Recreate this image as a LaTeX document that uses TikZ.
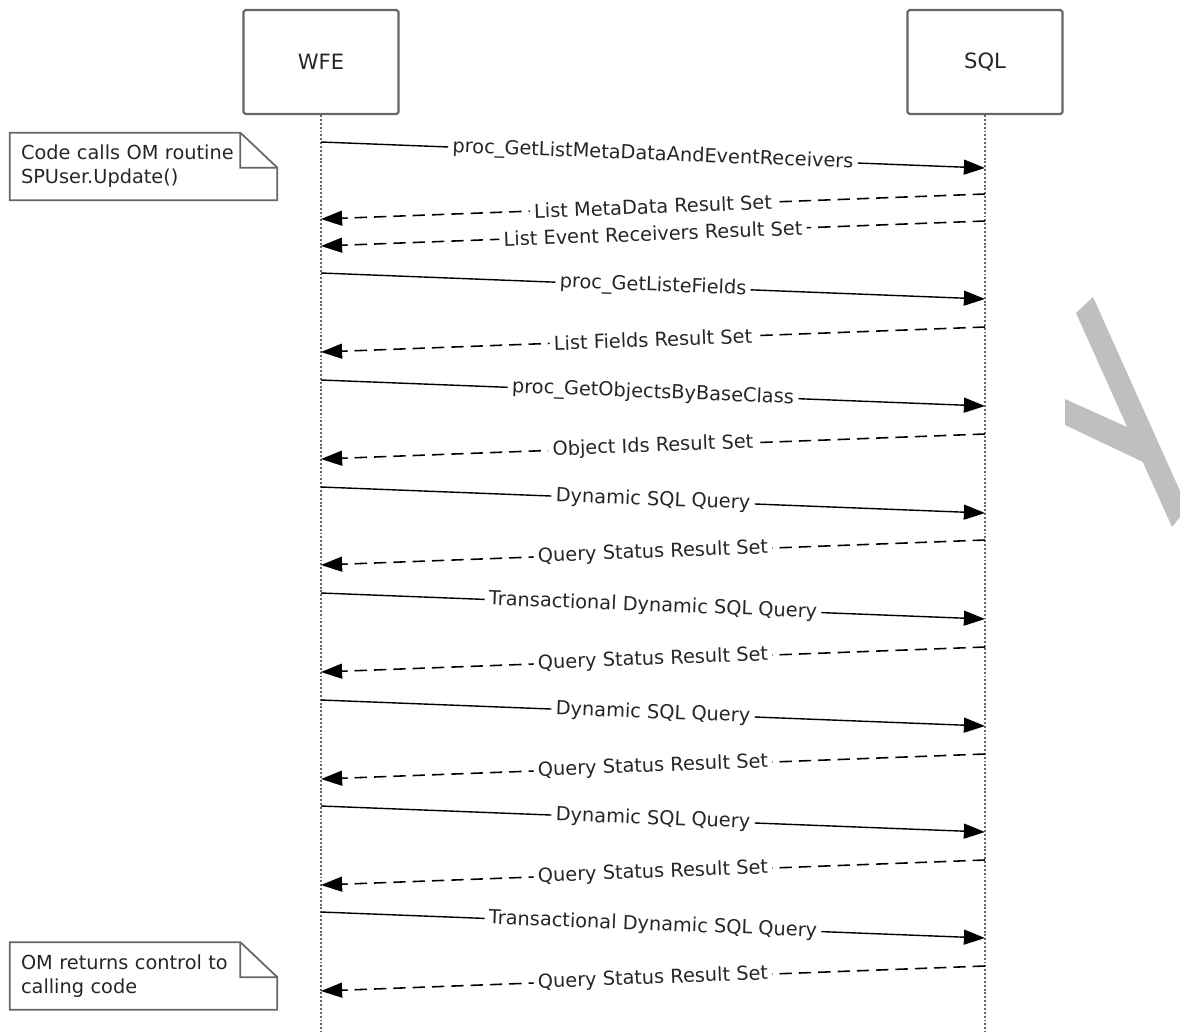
\documentclass[tikz,border=0pt]{standalone}
\usepackage{fontspec}
\setmainfont{DejaVu Sans}
\usetikzlibrary{arrows.meta,positioning}

\begin{document}
\begin{tikzpicture}[
            x=0.02cm, y=-0.02cm,
            every node/.style={text=black!85},
            actor/.style={draw=black!60, line width=1.2pt, rounded corners=1pt, minimum width=3.1cm, minimum height=2.08cm, font=\fontsize{12}{14}\selectfont},
            lifeline/.style={draw=black!60, line width=1.5pt, dash pattern=on 1.1pt off 1.1pt},
            note/.style={minimum width=5.34cm, minimum height=1.34cm, text width=4.9cm, inner xsep=0.22cm, align=left, font=\fontsize{11}{13.6}\selectfont},
            notefold/.style={draw=black!60, line width=1pt},
            call/.style={-{Triangle[length=12pt,width=8.5pt]}, line width=0.8pt},
            reply/.style={call, line width=0.9pt, dash pattern=on 7pt off 4pt},
            msg/.style={midway, sloped, fill=white, inner sep=2.5pt, font=\fontsize{11}{13}\selectfont}
  ]

  \useasboundingbox (0,0) rectangle (1180,1032);

  % participants
  \node[actor] (wfe) at (321,62) {WFE};
  \node[actor] (sql) at (985,62) {SQL};
  \coordinate (wfeend) at (321,1032);
  \coordinate (sqlend) at (985,1032);
  \draw[lifeline] (wfe.south) -- (wfeend);
  \draw[lifeline] (sql.south) -- (sqlend);

  % notes
  \node[note] (start) at (143.5,166.5) {Code calls OM routine\\SPUser.Update()};
  \node[note] (finish) at (143.5,976) {OM returns control to\\calling code};
  \foreach \n in {start,finish}
    \draw[notefold] (\n.north west) -- ([xshift=-0.74cm]\n.north east) -- ([yshift=-0.7cm]\n.north east) -- (\n.south east) -- (\n.south west) -- cycle
                    ([xshift=-0.74cm]\n.north east) |- ([yshift=-0.7cm]\n.north east);

  % requests
  \foreach \ya/\txt [count=\i] in {142/proc\_GetListMetaDataAndEventReceivers, 273/proc\_GetListeFields,
      380/proc\_GetObjectsByBaseClass, 487/Dynamic SQL Query, 593/Transactional Dynamic SQL Query,
      700/Dynamic SQL Query, 806/Dynamic SQL Query, 912/Transactional Dynamic SQL Query}
  {
    \coordinate (callsrc\i) at (321,\ya);
    \coordinate (calldst\i) at (985,\ya+26);
    \draw[call] (callsrc\i) -- node[msg] {\txt} (calldst\i);
  }

  % results
  \foreach \ya/\txt [count=\i] in {194/List MetaData Result Set, 221/List Event Receivers Result Set,
      327/List Fields Result Set, 434/Object Ids Result Set, 540/Query Status Result Set,
      647/Query Status Result Set, 754/Query Status Result Set, 860/Query Status Result Set,
      966/Query Status Result Set}
  {
    \coordinate (replysrc\i) at (985,\ya);
    \coordinate (replydst\i) at (321,\ya+25);
    \draw[reply] (replysrc\i) -- node[msg] {\txt} (replydst\i);
  }

  % grey mark at the right edge
  \fill[black!25] (1076,313) -- (1093,297) -- (1180,491) -- (1180,517) -- (1172,527) -- cycle
                  (1065,399) -- (1127,427) -- (1143,462) -- (1065,425) -- cycle;

\end{tikzpicture}
\end{document}
